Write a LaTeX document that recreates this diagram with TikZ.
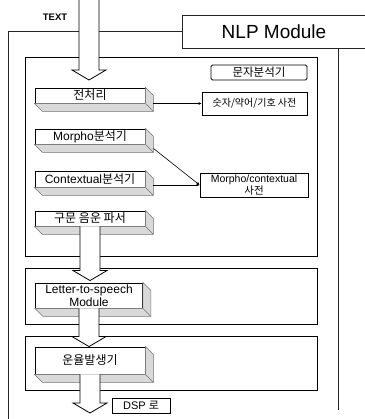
\documentclass[tikz,border=0pt]{standalone}
\usepackage{fontspec}
\setmainfont{Liberation Sans}
\newfontfamily\kr{Noto Sans CJK KR}
\usetikzlibrary{calc,arrows.meta}
\tikzset{
  groupbox/.style={draw, line width=0.9pt, fill=white},
  stage/.style={draw, line width=0.9pt, fill=white, minimum width=110pt, minimum height=15pt, inner sep=0pt, font=\fontsize{12}{13}\selectfont},
  dict/.style={draw, line width=0.9pt, fill=white, inner sep=0pt, align=center},
  fatarr/.style={draw, line width=0.8pt, fill=white},
  shade/.style={draw=black!55, fill=black!15, line width=0.5pt},
  link/.style={line width=0.6pt, -{Latex[length=3pt,width=3pt]}},
  frame/.style={line width=0.8pt, draw=black!85}
}
\newcommand\hollowarrow[2]{%
  \path[fatarr] let \p1=(#1), \p2=(#2) in
  ({\x1-10pt},\y1) -- ({\x1-10pt},{\y2+10pt}) -- ({\x1-17pt},{\y2+10pt}) -- (\x1,\y2)
  -- ({\x1+17pt},{\y2+10pt}) -- ({\x1+10pt},{\y2+10pt}) -- ({\x1+10pt},\y1);}
\newcommand\extrude[1]{%
  \draw[shade] (#1.north east) -- ++(8,8) -- ($(#1.south east)+(8,8)$) -- ($(#1.south west)+(8,8)$) -- (#1.south west) -- (#1.south east) -- cycle;
  \draw[shade] (#1.south east) -- ++(8,8);}
\begin{document}
\begin{tikzpicture}[x=1pt,y=-1pt]
\useasboundingbox[fill=white] (0,0) rectangle (364,419);
% title and outer frame
\node[draw, frame, minimum width=184pt, minimum height=33pt, inner sep=0pt, font=\fontsize{19}{20}\selectfont] (title) at (274,31.5) {NLP Module};
\draw[frame] (title.west) -- (8,31.5) -- (8,425);
\draw[frame] (338,48) -- (338,410);
\node[font=\bfseries\fontsize{9.5}{10}\selectfont] (textlbl) at (55,17) {TEXT};
% groups
\draw[groupbox] (25,57) rectangle (317,256);
\draw[groupbox] (25,268) rectangle (317,324);
\draw[groupbox] (25,336) rectangle (317,390);
\node[draw, rounded corners=1.5pt, line width=0.9pt, fill=white, minimum width=96pt, minimum height=15pt, inner sep=0pt, font=\kr\fontsize{11.5}{12}\selectfont] (glabel) at (259,72.5) {문자분석기};
% stages
\node[stage, font=\kr\fontsize{12}{13}\selectfont] (pre) at (90,95.5) {전처리};
\node[stage] (morpho) at (90,136.5) {Morpho{\kr 분석기}};
\node[stage, minimum height=16pt] (context) at (90,179) {Contextual{\kr 분석기}};
\node[stage, font=\kr\fontsize{12}{13}\selectfont] (parser) at (90,218.5) {구문 음운 파서};
\node[stage, minimum width=107pt, minimum height=25pt, align=center, font=\fontsize{12}{12.5}\selectfont] (l2s) at (89,295.5) {Letter-to-speech\\Module};
\node[stage, minimum height=27pt, font=\kr\fontsize{12}{13}\selectfont] (pros) at (90,360.5) {운율발생기};
% dictionaries
\node[dict, minimum width=105pt, minimum height=23pt, font=\kr\fontsize{10}{11}\selectfont] (dict1) at (254.5,103.5) {숫자/약어/기호 사전};
\node[dict, minimum width=108pt, minimum height=24pt, font=\fontsize{10.5}{11.5}\selectfont] (dict2) at (254,185) {Morpho/contextual\\{\kr 사전}};
% shadows
\extrude{pre}
\extrude{morpho}
\extrude{context}
\extrude{parser}
\extrude{l2s}
\extrude{pros}
% links
\draw[link] ($(pre.east)+(8,8)$) -- (dict1.west);
\draw[link] ($(morpho.south east)+(8,4)$) -- (dict2.west);
\draw[link] ($(context.east)+(8,6)$) -- (dict2.west);
% flow arrows
\coordinate (textin) at (89,-2);
\coordinate (tip1) at (89,80);
\coordinate (tip2) at ($(l2s.north)+(0,-2)$);
\coordinate (dspout) at (89,413);
\hollowarrow{textin}{tip1}
\hollowarrow{parser.south}{tip2}
\hollowarrow{l2s.south}{pros.north}
\hollowarrow{pros.south}{dspout}
\node[draw, line width=0.9pt, fill=white, minimum width=58pt, minimum height=15pt, inner sep=0pt, font=\fontsize{11}{12}\selectfont] (dsp) at (141,405.5) {DSP {\kr 로}};
\end{tikzpicture}
\end{document}
